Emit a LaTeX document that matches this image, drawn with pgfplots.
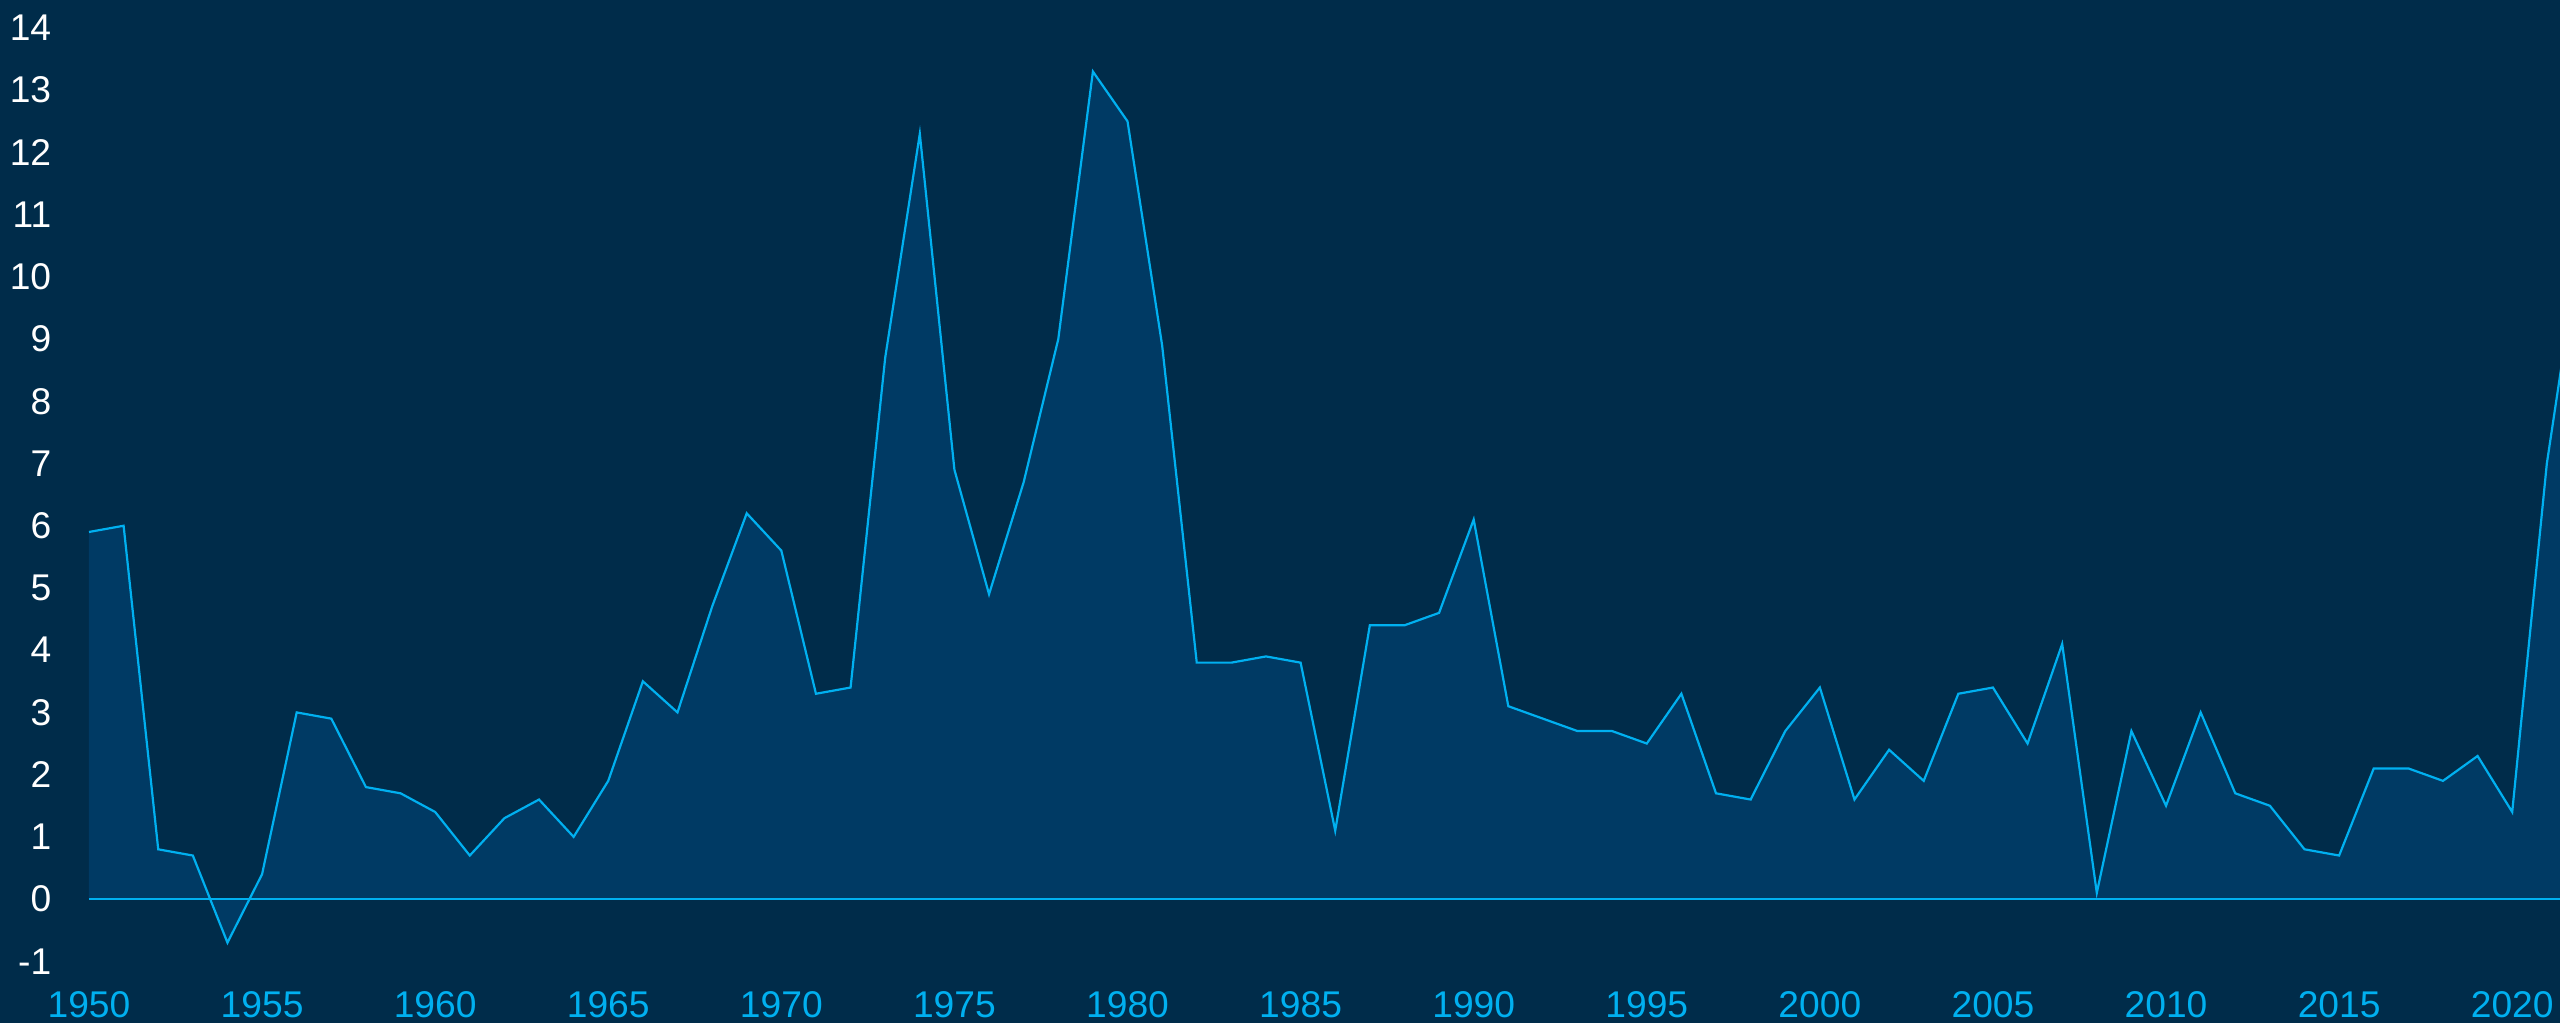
\documentclass[border=0pt]{standalone}
\usepackage{fontspec}
\setmainfont{Liberation Sans}
\usepackage{pgfplots}
\usepackage{pgfplotstable}
\pgfplotsset{compat=1.18}

\definecolor{bgnavy}{RGB}{0,44,74}
\definecolor{areablue}{RGB}{0,58,100}
\definecolor{linecyan}{RGB}{0,176,240}

% year, annual rate
\pgfplotstableread{
year val
1950 5.9
1951 6.0
1952 0.8
1953 0.7
1954 -0.7
1955 0.4
1956 3.0
1957 2.9
1958 1.8
1959 1.7
1960 1.4
1961 0.7
1962 1.3
1963 1.6
1964 1.0
1965 1.9
1966 3.5
1967 3.0
1968 4.7
1969 6.2
1970 5.6
1971 3.3
1972 3.4
1973 8.7
1974 12.3
1975 6.9
1976 4.9
1977 6.7
1978 9.0
1979 13.3
1980 12.5
1981 8.9
1982 3.8
1983 3.8
1984 3.9
1985 3.8
1986 1.1
1987 4.4
1988 4.4
1989 4.6
1990 6.1
1991 3.1
1992 2.9
1993 2.7
1994 2.7
1995 2.5
1996 3.3
1997 1.7
1998 1.6
1999 2.7
2000 3.4
2001 1.6
2002 2.4
2003 1.9
2004 3.3
2005 3.4
2006 2.5
2007 4.1
2008 0.1
2009 2.7
2010 1.5
2011 3.0
2012 1.7
2013 1.5
2014 0.8
2015 0.7
2016 2.1
2017 2.1
2018 1.9
2019 2.3
2020 1.4
2021 7.0
2022 10.7
}\cpi

\begin{document}
\begin{tikzpicture}
\useasboundingbox (0,0) rectangle (640pt,255.75pt);
\fill[bgnavy] (0,0) rectangle (640pt,255.75pt);
\begin{axis}[
    at={(22.25pt,10.75pt)}, anchor=south west,
    scale only axis,
    width=617.75pt, height=245pt,
    xmin=1950, xmax=2021.38,
    ymin=-1.3, ymax=14.45,
    axis line style={draw=none},
    tick style={draw=none},
    clip=true,
    xtick={1950,1955,...,2020},
    xticklabels={1950,1955,1960,1965,1970,1975,1980,1985,1990,1995,2000,2005,2010,2015,2020},
    ytick={-1,0,...,14},
    yticklabels={-1,0,1,2,3,4,5,6,7,8,9,10,11,12,13,14},
    major tick length=0pt,
    xticklabel style={font=\fontsize{9.3pt}{11pt}\selectfont, text=linecyan,
                      anchor=center, inner sep=0pt, yshift=-6.25pt},
    yticklabel style={font=\fontsize{9.3pt}{11pt}\selectfont, text=white,
                      anchor=east, inner sep=0pt, xshift=-9.25pt},
]
\addplot[fill=areablue, draw=none] table[x=year, y=val] {\cpi} \closedcycle;
\addplot[linecyan, line width=0.7pt] coordinates {(1950,0) (2022,0)};
\addplot[linecyan, line width=0.55pt] table[x=year, y=val] {\cpi};
\end{axis}
\end{tikzpicture}
\end{document}
